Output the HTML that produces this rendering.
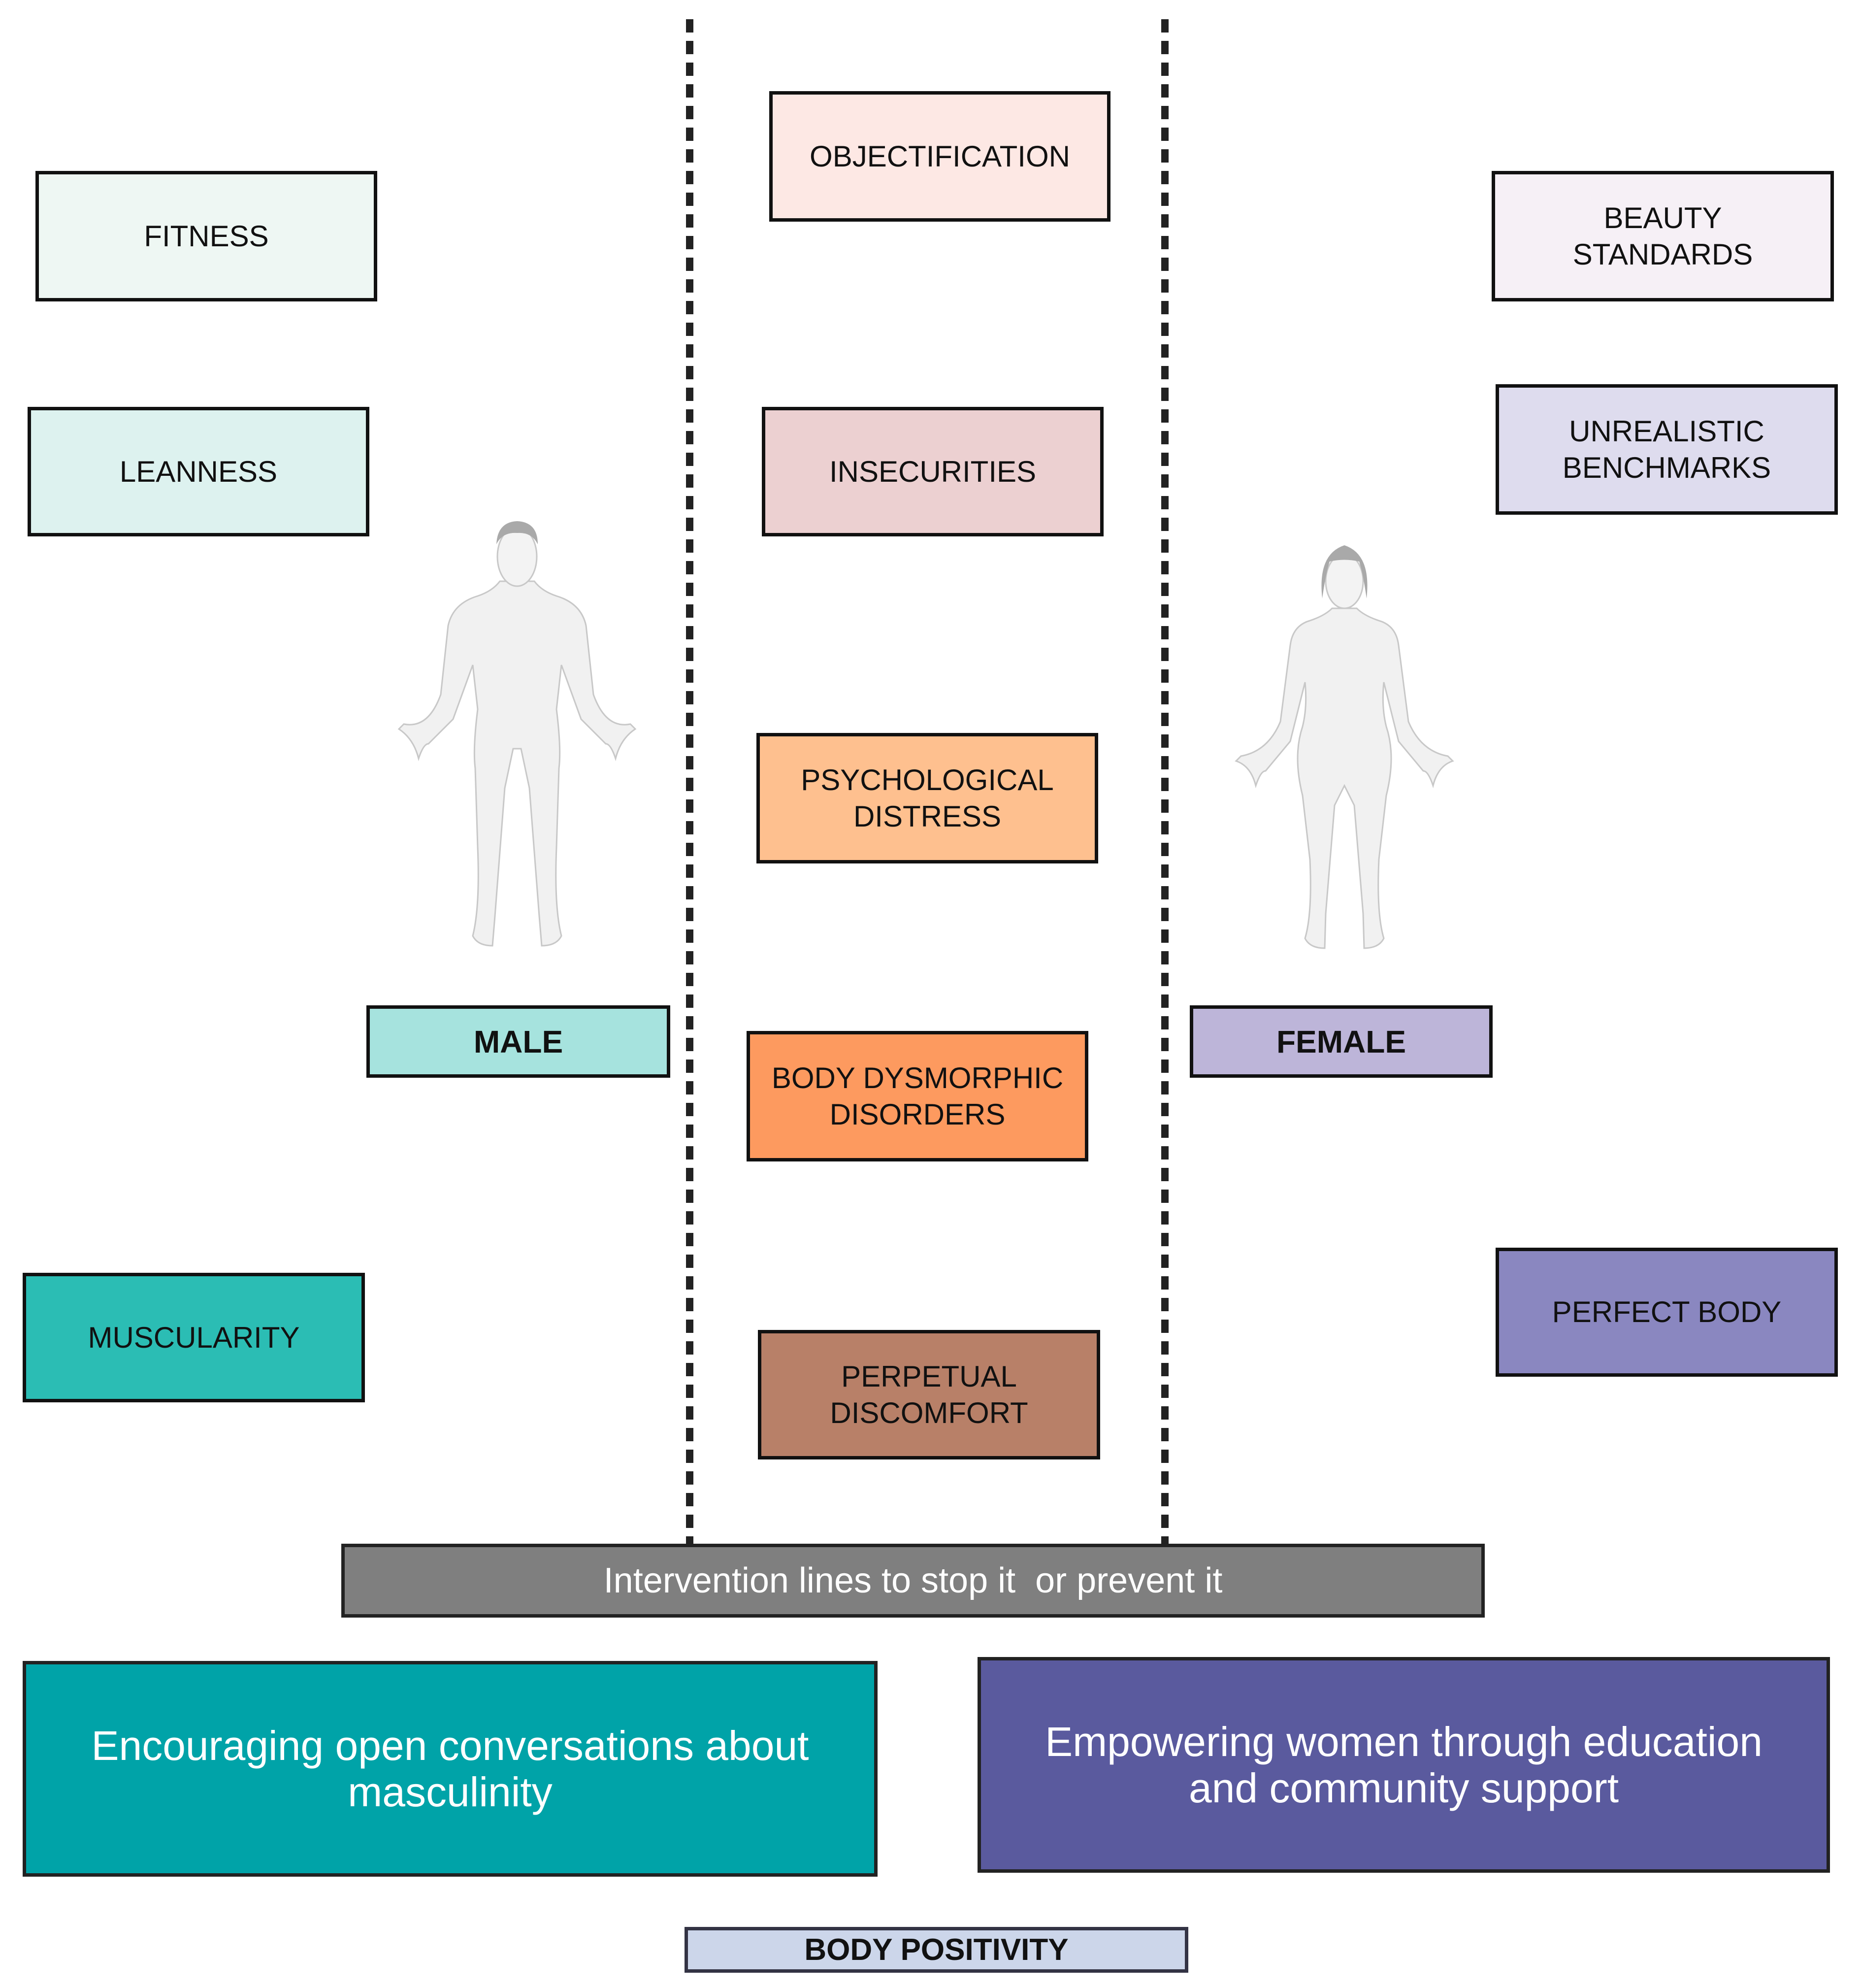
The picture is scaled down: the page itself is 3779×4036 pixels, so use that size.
<!DOCTYPE html>
<html><head><meta charset="utf-8"><style>
html,body{margin:0;padding:0}
body{width:3779px;height:4036px;position:relative;background:#fff;font-family:"Liberation Sans",sans-serif;overflow:hidden}
.b{position:absolute;box-sizing:border-box;border:7px solid #111;display:flex;align-items:center;justify-content:center;text-align:center;font-size:60px;line-height:74px;color:#111}
.d{position:absolute;top:39px;height:3100px;width:15px;background:repeating-linear-gradient(to bottom,#222 0 27px,transparent 27px 44px)}
</style></head><body>
<div class="d" style="left:1393px"></div>
<div class="d" style="left:2358px"></div>

<div class="b" style="left:1562px;top:185px;width:693px;height:265px;background:#fde8e4">OBJECTIFICATION</div>
<div class="b" style="left:72px;top:347px;width:694px;height:265px;background:#eef7f3">FITNESS</div>
<div class="b" style="left:3029px;top:347px;width:695px;height:265px;background:#f6f0f6">BEAUTY<br>STANDARDS</div>
<div class="b" style="left:56px;top:826px;width:694px;height:263px;background:#ddf2ef">LEANNESS</div>
<div class="b" style="left:1547px;top:826px;width:694px;height:263px;background:#ecd0d1">INSECURITIES</div>
<div class="b" style="left:3037px;top:780px;width:695px;height:265px;background:#dedcee">UNREALISTIC<br>BENCHMARKS</div>
<div class="b" style="left:1536px;top:1488px;width:694px;height:265px;background:#fec08f">PSYCHOLOGICAL<br>DISTRESS</div>
<div class="b" style="left:744px;top:2041px;width:617px;height:147px;background:#a6e3de;font-weight:bold;font-size:64px">MALE</div>
<div class="b" style="left:2416px;top:2041px;width:615px;height:147px;background:#bdb5d9;font-weight:bold;font-size:64px">FEMALE</div>
<div class="b" style="left:1516px;top:2093px;width:694px;height:265px;background:#fd9a5f">BODY DYSMORPHIC<br>DISORDERS</div>
<div class="b" style="left:46px;top:2584px;width:695px;height:263px;background:#2bbdb4">MUSCULARITY</div>
<div class="b" style="left:3037px;top:2533px;width:695px;height:262px;background:#8a87c0">PERFECT BODY</div>
<div class="b" style="left:1539px;top:2700px;width:695px;height:263px;background:#b88068">PERPETUAL<br>DISCOMFORT</div>

<div class="b" style="left:693px;top:3134px;width:2322px;height:150px;background:#7f7f7f;color:#fff;font-size:72px;border-color:#222">Intervention lines to stop it&nbsp; or prevent it</div>
<div class="b" style="left:46px;top:3372px;width:1736px;height:438px;background:#00a3a8;color:#fff;font-size:84px;line-height:94px;border-color:#222">Encouraging open conversations about<br>masculinity</div>
<div class="b" style="left:1985px;top:3364px;width:1731px;height:438px;background:#5a5a9e;color:#fff;font-size:84px;line-height:94px;border-color:#222">Empowering women through education<br>and community support</div>
<div class="b" style="left:1390px;top:3912px;width:1023px;height:93px;background:#ccd6ea;font-weight:bold;font-size:62px;border-color:#334">BODY POSITIVITY</div>

<svg style="position:absolute;left:800px;top:1040px" width="500" height="900" viewBox="0 0 500 900">
 <g fill="#f1f1f1" stroke="#c8c8c8" stroke-width="3">
  <path d="M215 140 Q200 160 170 170 Q120 185 110 230 L95 370 Q70 440 20 430 L10 440 Q40 460 50 500 Q60 470 70 470 L120 420 L160 310 L170 400 Q160 480 165 520 L170 680 Q175 800 160 860 Q170 880 200 880 L205 820 L225 560 L242 480 L258 480 L275 560 L295 820 L300 880 Q330 880 340 860 Q325 800 330 680 L335 520 Q340 480 330 400 L340 310 L380 420 L430 470 Q440 470 450 500 Q460 460 490 440 L480 430 Q430 440 405 370 L390 230 Q380 185 330 170 Q300 160 285 140 Z"/>
  <ellipse cx="250" cy="90" rx="40" ry="60" fill="#f3f3f3"/>
 </g>
 <path d="M208 65 Q210 20 250 18 Q292 20 292 65 Q280 40 250 42 Q220 40 208 65Z" fill="#a9a9a9"/>
</svg>
<svg style="position:absolute;left:2480px;top:1095px" width="500" height="840" viewBox="0 0 500 840">
 <g fill="#f1f1f1" stroke="#c8c8c8" stroke-width="3">
  <path d="M225 140 Q210 155 180 165 Q145 175 140 215 L120 370 Q95 430 40 440 L30 450 Q60 460 70 500 Q80 470 90 470 L140 410 L170 290 Q175 340 165 380 Q145 440 165 520 L180 650 Q185 760 170 810 Q180 830 210 830 L212 760 L230 540 L250 500 L270 540 L288 760 L290 830 Q320 830 330 810 Q315 760 320 650 L335 520 Q355 440 335 380 Q325 340 330 290 L360 410 L410 470 Q420 470 430 500 Q440 460 470 450 L460 440 Q405 430 380 370 L360 215 Q355 175 320 165 Q290 155 275 140 Z"/>
  <ellipse cx="250" cy="85" rx="38" ry="55" fill="#f3f3f3"/>
 </g>
 <path d="M205 120 Q195 30 250 12 Q305 30 295 120 Q288 70 280 45 Q250 38 220 45 Q212 70 205 120Z" fill="#a9a9a9"/>
</svg>
</body></html>
